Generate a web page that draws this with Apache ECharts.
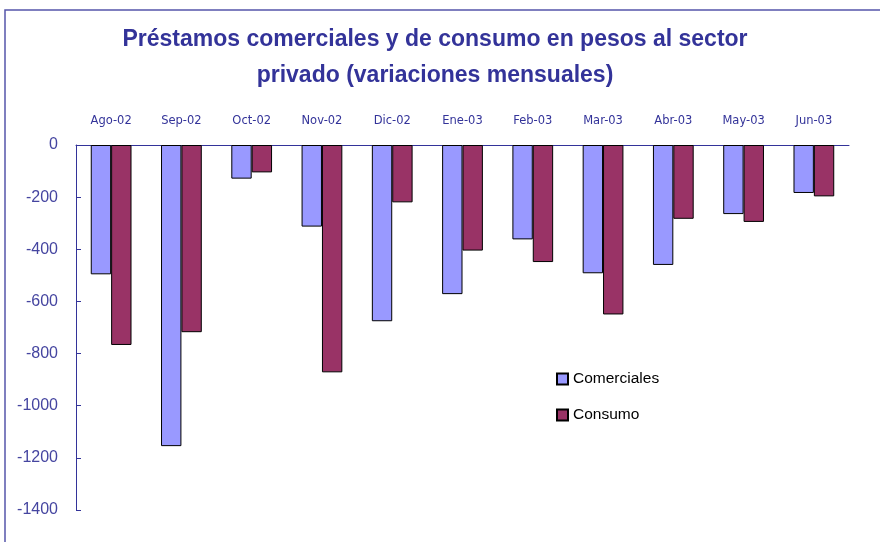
<!DOCTYPE html>
<html>
<head>
<meta charset="utf-8">
<script src="https://cdn.jsdelivr.net/npm/echarts@6/dist/echarts.min.js"></script>
<style>
    html, body { margin: 0; padding: 0; background: #fff; }
    #chart { width: 880px; height: 542px; }
</style>
</head>
<body>
<div id="chart"></div>
<script>
// datos
var meses = ['Ago-02', 'Sep-02', 'Oct-02', 'Nov-02', 'Dic-02', 'Ene-03', 'Feb-03', 'Mar-03', 'Abr-03', 'May-03', 'Jun-03'];
var comerciales = [-496, -1155, -129, -313, -676, -572, -362, -492, -460, -265, -184];
var consumo = [-767, -718, -105, -872, -220, -405, -449, -650, -283, -295, -197];

var azul = '#333399';

var mychart = echarts.init(document.getElementById('chart'));
var option = {
    animation: false,
    backgroundColor: '#fff',
    title: {
        left: 430,
        top: 17,
        textAlign: 'center',
        text: 'Préstamos comerciales y de consumo en pesos al sector\nprivado (variaciones mensuales)',
        textStyle: {
            color: azul,
            fontWeight: 'bold',
            fontFamily: 'Liberation Sans',
            fontSize: 23,
            lineHeight: 36
        }
    },
    graphic: [{
        type: 'rect',
        shape: { x: 5, y: 10, width: 900, height: 600 },
        style: { fill: 'none', stroke: '#5555aa', lineWidth: 1.5 }
    }],
    legend: {
        orient: 'vertical',
        left: 551,
        top: 366,
        icon: 'rect',
        itemWidth: 11,
        itemHeight: 11,
        itemGap: 20,
        textStyle: { color: '#000', fontSize: 15.5, fontFamily: 'Liberation Sans' },
        data: ['Comerciales', 'Consumo']
    },
    grid: {
        left: 76,
        right: 31,
        top: 145,
        bottom: 32
    },
    xAxis: [{
        type: 'category',
        position: 'top',
        data: meses,
        axisLine: { lineStyle: { color: azul, width: 1 } },
        axisTick: { inside: true, length: 5, lineStyle: { color: azul } },
        axisLabel: { color: azul, fontSize: 11.5, margin: 18, fontFamily: 'DejaVu Sans' },
        splitLine: { show: false }
    }],
    yAxis: [{
        type: 'value',
        min: -1400,
        max: 0,
        interval: 200,
        axisLine: { show: true, lineStyle: { color: azul, width: 1 } },
        axisTick: { show: true, inside: true, length: 5, lineStyle: { color: azul } },
        axisLabel: {
            color: '#4545a0',
            fontSize: 16,
            margin: 18,
            fontFamily: 'Liberation Sans',
            formatter: function (v) { return String(v); }
        },
        splitLine: { show: false }
    }],
    series: [{
        name: 'Comerciales',
        type: 'bar',
        data: comerciales,
        barWidth: '29%',
        barGap: '0%',
        itemStyle: { color: '#9999ff', borderColor: '#000', borderWidth: 1 }
    }, {
        name: 'Consumo',
        type: 'bar',
        data: consumo,
        barWidth: '29%',
        barGap: '0%',
        itemStyle: { color: '#993366', borderColor: '#000', borderWidth: 1 }
    }]
};
mychart.setOption(option);
</script>
</body>
</html>
